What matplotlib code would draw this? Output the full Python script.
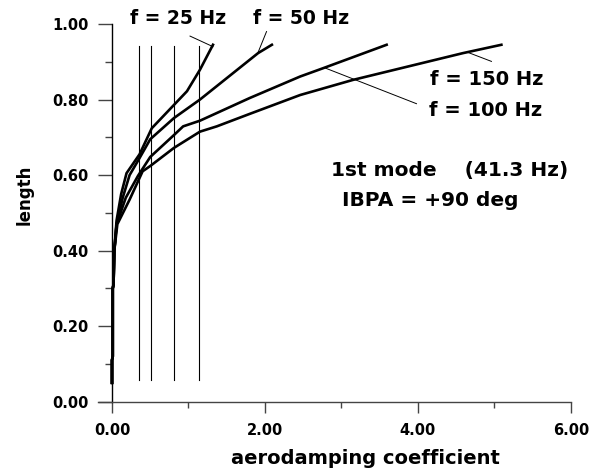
import matplotlib
matplotlib.use("Agg")
import matplotlib.pyplot as plt
import numpy as np

# ---- data ----
low_x = [0.0, 0.0, 0.01, 0.01, 0.02, 0.03]
low_y = [0.05, 0.11, 0.12, 0.30, 0.31, 0.40]

x25 = low_x + [0.06, 0.12, 0.19, 0.36, 0.52, 0.98, 1.15, 1.32]
y25 = low_y + [0.48, 0.55, 0.605, 0.655, 0.724, 0.822, 0.879, 0.945]

x50 = low_x + [0.06, 0.14, 0.23, 0.36, 0.50, 0.81, 1.15, 1.91, 2.09]
y50 = low_y + [0.47, 0.54, 0.60, 0.645, 0.695, 0.751, 0.80, 0.923, 0.945]

x100 = low_x + [0.06, 0.18, 0.34, 0.50, 0.81, 0.93, 1.15, 1.80, 2.46, 2.76, 3.59]
y100 = low_y + [0.47, 0.54, 0.598, 0.648, 0.706, 0.729, 0.744, 0.804, 0.861, 0.883, 0.945]

x150 = low_x + [0.07, 0.23, 0.40, 0.50, 0.81, 1.15, 1.37, 1.80, 2.46, 3.15, 4.59, 5.09]
y150 = low_y + [0.47, 0.535, 0.61, 0.624, 0.672, 0.715, 0.729, 0.762, 0.812, 0.852, 0.923, 0.945]

vlines_x = [0.357, 0.506, 0.814, 1.141]
vline_ymin, vline_ymax = 0.057, 0.942

# leader lines (from, to) in data coords
leaders = [
    ((1.02, 0.968), (1.32, 0.940)),
    ((2.02, 0.980), (1.91, 0.925)),
    ((2.78, 0.884), (3.98, 0.789)),
    ((4.65, 0.925), (4.96, 0.901)),
]

xticks = [0, 2, 4, 6]
xticklabels = ["0.00", "2.00", "4.00", "6.00"]
yticks = [0.0, 0.2, 0.4, 0.6, 0.8, 1.0]
yticklabels = ["0.00", "0.20", "0.40", "0.60", "0.80", "1.00"]

W, H = 590, 474
fig = plt.figure(figsize=(W / 100, H / 100), dpi=100)
plt.rcParams['font.family'] = ['DejaVu Sans']
ax = fig.add_axes([98 / W, (H - 401.7) / H, 473 / W, 377.7 / H])

for xs, ys in [(x25, y25), (x50, y50), (x100, y100), (x150, y150)]:
    ax.plot(xs, ys, color='black', lw=1.9, solid_joinstyle='round')

for xv in vlines_x:
    ax.plot([xv, xv], [vline_ymin, vline_ymax], color='black', lw=0.8)

for (a, b) in leaders:
    ax.plot([a[0], b[0]], [a[1], b[1]], color='black', lw=0.7, clip_on=False)

ax.set_xlim(-0.183, 6.0)
ax.set_ylim(0, 1.0)
ax.spines['top'].set_visible(False)
ax.spines['right'].set_visible(False)
ax.spines['left'].set_position(('data', 0))
ax.spines['left'].set_color('black')
ax.spines['bottom'].set_color('#444444')
for s in ['left', 'bottom']:
    ax.spines[s].set_linewidth(1.0)

ax.set_xticks(xticks)
ax.set_xticklabels(xticklabels, fontsize=10.5, fontweight='bold')
ax.set_xticks([1, 3, 5], minor=True)
ax.set_yticks(yticks)
ax.set_yticklabels(yticklabels, fontsize=10.5, fontweight='bold')
ax.set_yticks([0.1, 0.3, 0.5, 0.7, 0.9], minor=True)
ax.tick_params(axis='x', which='major', length=8, width=1, pad=7, color='#444444')
ax.tick_params(axis='x', which='minor', length=4, width=1, color='#444444')
ax.tick_params(axis='y', which='major', length=10, width=1, pad=7, color='#444444')
ax.tick_params(axis='y', which='minor', length=5, width=1, color='#444444')

ax.set_xlabel("aerodamping coefficient", fontsize=14, fontweight='bold')
ax.xaxis.set_label_coords((365.5 - 98) / 473, (401.7 - 449) / 377.7)
ax.set_ylabel("length", fontsize=12, fontweight='bold')
ax.yaxis.set_label_coords((34 - 98) / 473, (401.7 - 195) / 377.7)

def ftext(px, py, s, size=14):
    fig.text(px / W, 1 - py / H, s, ha='center', va='center',
             fontsize=size, fontweight='bold')

ftext(178.5, 18, "f = 25 Hz", 13.5)
ftext(301.5, 18, "f = 50 Hz", 13.5)
ftext(487, 80, "f = 150 Hz", 14)
ftext(486, 110, "f = 100 Hz", 14)
ftext(450, 170, "1st mode    (41.3 Hz)", 14.5)
ftext(430, 200, "IBPA = +90 deg", 14.5)

fig.savefig("out.png", dpi=100)
